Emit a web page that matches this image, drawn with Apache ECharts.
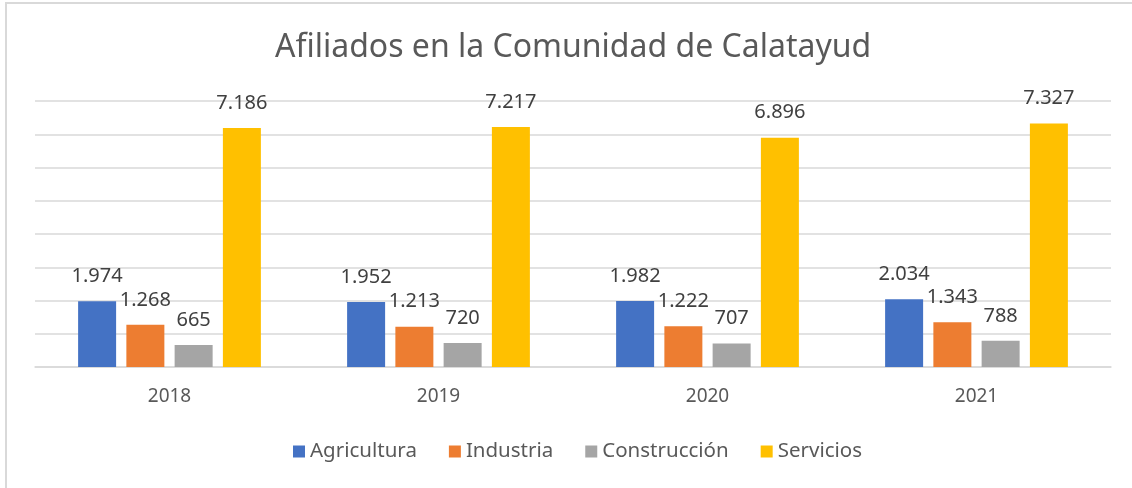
<!DOCTYPE html>
<html lang="es">
<head>
    <meta charset="UTF-8">
    <title>Afiliados en la Comunidad de Calatayud</title>
    <script src="https://cdn.jsdelivr.net/npm/echarts@6/dist/echarts.min.js"></script>
</head>
<body>
<div id="main"></div>
</body>

<style type="text/css" media="screen">
    html, body {
        width: 100%;
        height: 100%;
        overflow: hidden;
        margin: 0;
        background: #fff;
    }

    #main {
        width: 1132px;
        height: 488px;
    }
</style>
<script>
    var years = ['2018', '2019', '2020', '2021'];
    var agricultura = [1974, 1952, 1982, 2034];
    var industria = [1268, 1213, 1222, 1343];
    var construccion = [665, 720, 707, 788];
    var servicios = [7186, 7217, 6896, 7327];

    var FONT = '"Noto Sans", sans-serif';
    var TEXT = '#595959';

    // separador de miles con punto
    function fmt(p) {
        return String(p.value).replace(/\B(?=(\d{3})+(?!\d))/g, '.');
    }

    function serie(name, color, data) {
        return {
            name: name,
            type: 'bar',
            data: data,
            barWidth: 38,
            barGap: '27%',
            itemStyle: {color: color},
            label: {
                show: true,
                position: 'top',
                distance: 15,
                formatter: fmt,
                color: '#404040',
                fontSize: 20,
                fontFamily: FONT
            }
        };
    }

    var myChart = echarts.init(document.getElementById('main'));
    var option = {
        animation: false,
        backgroundColor: '#fff',
        graphic: [{
            type: 'rect',
            shape: {x: 6, y: 3, width: 1200, height: 600},
            style: {fill: 'none', stroke: '#d9d9d9', lineWidth: 2},
            silent: true
        }],
        title: {
            text: 'Afiliados en la Comunidad de Calatayud',
            left: 270,
            top: 27,
            textStyle: {
                color: TEXT,
                fontSize: 32,
                fontWeight: 'normal',
                fontFamily: FONT
            }
        },
        legend: {
            data: ['Agricultura', 'Industria', 'Construcción', 'Servicios'],
            bottom: 21,
            left: 288,
            icon: 'rect',
            itemWidth: 12,
            itemHeight: 12,
            itemGap: 32,
            textStyle: {color: TEXT, fontSize: 20.5, fontFamily: FONT}
        },
        grid: {
            left: 35,
            right: 21,
            top: 101,
            bottom: 121
        },
        xAxis: {
            type: 'category',
            data: years,
            axisLine: {lineStyle: {color: '#d9d9d9', width: 1.5}},
            axisTick: {show: false},
            axisLabel: {color: TEXT, fontSize: 19, fontFamily: FONT, margin: 20}
        },
        yAxis: {
            type: 'value',
            min: 0,
            max: 8000,
            interval: 1000,
            axisLabel: {show: false},
            axisLine: {show: false},
            axisTick: {show: false},
            splitLine: {lineStyle: {color: '#d9d9d9', width: 1.5}}
        },
        series: [
            serie('Agricultura', '#4472C4', agricultura),
            serie('Industria', '#ED7D31', industria),
            serie('Construcción', '#A5A5A5', construccion),
            serie('Servicios', '#FFC000', servicios)
        ]
    };
    myChart.setOption(option);
</script>
</html>
